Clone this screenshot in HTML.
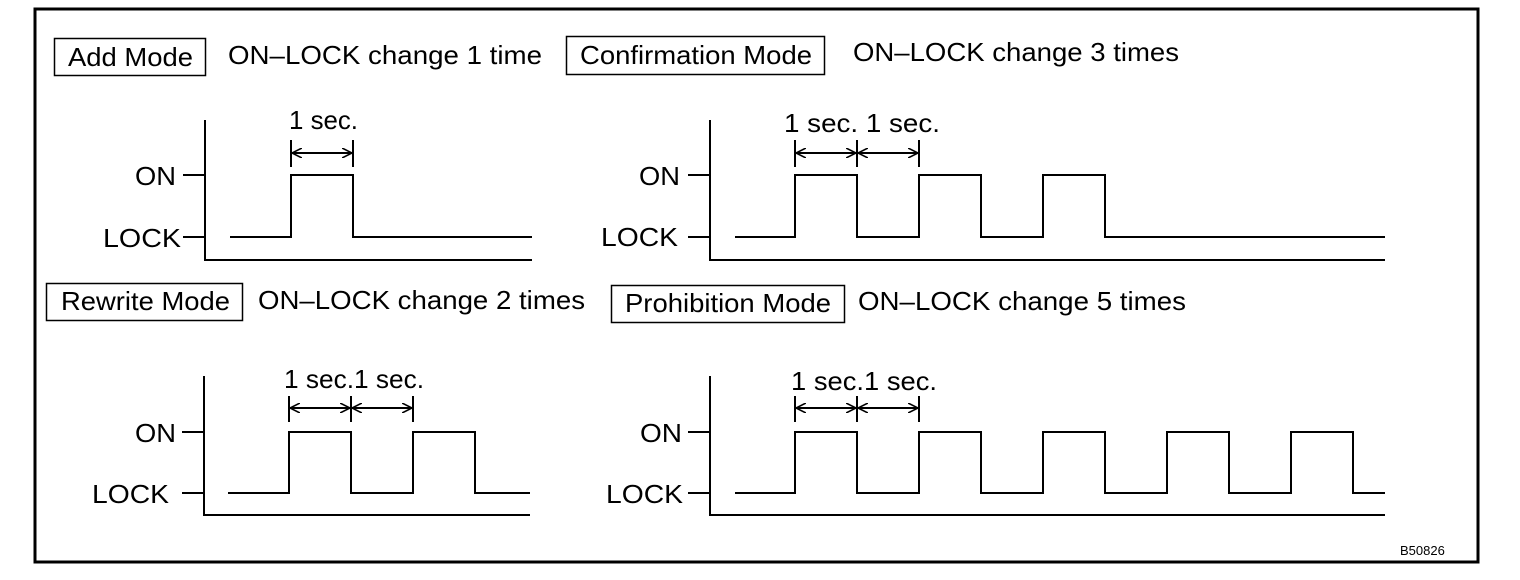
<!DOCTYPE html>
<html><head><meta charset="utf-8"><style>
html,body{margin:0;padding:0;background:#fff;}
svg{display:block;}
text{font-family:"Liberation Sans",Arial,sans-serif;fill:#000;}
</style></head><body>
<svg width="1520" height="580" viewBox="0 0 1520 580" xmlns="http://www.w3.org/2000/svg">
<defs>
<marker id="a" viewBox="0 0 10 10" refX="10" refY="5" markerWidth="10" markerHeight="10" markerUnits="userSpaceOnUse" orient="auto-start-reverse">
<path d="M0,0 L10,5 L0,10" fill="none" stroke="#000" stroke-width="1.6"/>
</marker>
</defs>
<rect x="35" y="9" width="1443" height="553" fill="none" stroke="#000" stroke-width="3"/>
<g fill="none" stroke="#000" stroke-width="1.5">
<rect x="54.5" y="38.5" width="151" height="37"/>
<rect x="566.5" y="36.5" width="258" height="38"/>
<rect x="46.5" y="283.5" width="196" height="37"/>
<rect x="611.5" y="285.5" width="233" height="37"/>
</g>
<g font-size="26" lengthAdjust="spacingAndGlyphs">
<text x="68" y="66" textLength="125" lengthAdjust="spacingAndGlyphs">Add Mode</text>
<text x="580" y="64" textLength="232" lengthAdjust="spacingAndGlyphs">Confirmation Mode</text>
<text x="61" y="310" textLength="169" lengthAdjust="spacingAndGlyphs">Rewrite Mode</text>
<text x="625" y="312" textLength="206" lengthAdjust="spacingAndGlyphs">Prohibition Mode</text>
<text x="228" y="64" textLength="314" lengthAdjust="spacingAndGlyphs">ON–LOCK change 1 time</text>
<text x="853" y="61" textLength="326" lengthAdjust="spacingAndGlyphs">ON–LOCK change 3 times</text>
<text x="258" y="309" textLength="327" lengthAdjust="spacingAndGlyphs">ON–LOCK change 2 times</text>
<text x="858" y="310" textLength="328" lengthAdjust="spacingAndGlyphs">ON–LOCK change 5 times</text>
<text x="135" y="185" textLength="41" lengthAdjust="spacingAndGlyphs">ON</text>
<text x="103" y="247" textLength="78" lengthAdjust="spacingAndGlyphs">LOCK</text>
<text x="639" y="185" textLength="41" lengthAdjust="spacingAndGlyphs">ON</text>
<text x="601" y="246" textLength="77" lengthAdjust="spacingAndGlyphs">LOCK</text>
<text x="135" y="442" textLength="41" lengthAdjust="spacingAndGlyphs">ON</text>
<text x="92" y="503" textLength="77" lengthAdjust="spacingAndGlyphs">LOCK</text>
<text x="640" y="442" textLength="42" lengthAdjust="spacingAndGlyphs">ON</text>
<text x="606" y="503" textLength="77" lengthAdjust="spacingAndGlyphs">LOCK</text>
<text x="289" y="129" textLength="69" lengthAdjust="spacingAndGlyphs">1 sec.</text>
<text x="784" y="132" textLength="156" lengthAdjust="spacingAndGlyphs">1 sec. 1 sec.</text>
<text x="284" y="388" textLength="140" lengthAdjust="spacingAndGlyphs">1 sec.1 sec.</text>
<text x="791" y="390" textLength="146" lengthAdjust="spacingAndGlyphs">1 sec.1 sec.</text>
</g>
<g fill="none" stroke="#000" stroke-width="2">
<path d="M205,120 V260 H532 M183,175 H205 M183,237 H205"/>
<path d="M230,237 H291 V175 H353 V237 H532"/>
<path d="M291,140 V167 M353,140 V167"/>
<path d="M710,120 V260 H1385 M688,175 H710 M688,237 H710"/>
<path d="M735,237 H795 V175 H857 V237 H919 V175 H981 V237 H1043 V175 H1105 V237 H1385"/>
<path d="M795,140 V167 M857,140 V167 M919,140 V167"/>
<path d="M204,376 V515 H530 M182,432 H204 M182,493 H204"/>
<path d="M228,493 H289 V432 H351 V493 H413 V432 H475 V493 H530"/>
<path d="M289,396 V422 M351,396 V422 M413,396 V422"/>
<path d="M710,376 V515 H1385 M688,432 H710 M688,493 H710"/>
<path d="M735,493 H795 V432 H857 V493 H919 V432 H981 V493 H1043 V432 H1105 V493 H1167 V432 H1229 V493 H1291 V432 H1353 V493 H1385"/>
<path d="M795,396 V422 M857,396 V422 M919,396 V422"/>
</g>
<g stroke="#000" stroke-width="2" marker-start="url(#a)" marker-end="url(#a)">
<line x1="292" y1="153" x2="352" y2="153"/>
<line x1="796" y1="153" x2="856" y2="153"/>
<line x1="858" y1="153" x2="918" y2="153"/>
<line x1="290" y1="408" x2="350" y2="408"/>
<line x1="352" y1="408" x2="412" y2="408"/>
<line x1="796" y1="408" x2="856" y2="408"/>
<line x1="858" y1="408" x2="918" y2="408"/>
</g>
<text x="1400" y="555" font-size="13">B50826</text>
</svg>
</body></html>
